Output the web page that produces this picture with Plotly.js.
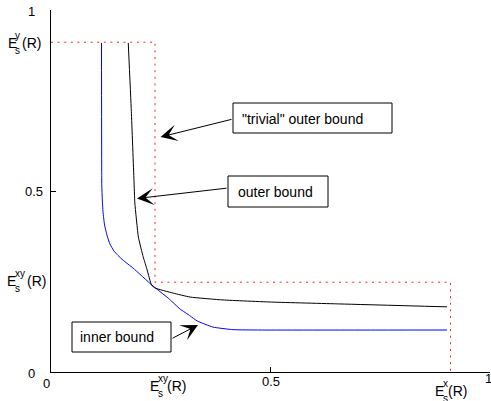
<!DOCTYPE html>
<html>
<head>
<meta charset="utf-8">
<script src="https://cdn.plot.ly/plotly-3.0.1.min.js"></script>
<style>
html,body{margin:0;padding:0;background:#fff;}
#chart{width:491px;height:401px;}
</style>
</head>
<body>
<div id="chart"></div>
<script>
// ---- data ----
var innerX = [0.115, 0.1155, 0.1157, 0.1169, 0.1185, 0.122, 0.128, 0.134, 0.1435, 0.1526, 0.164, 0.187, 0.230, 0.267, 0.294, 0.317, 0.333, 0.369, 0.415, 0.476, 0.902];
var innerY = [0.909, 0.558, 0.517, 0.475, 0.442, 0.406, 0.376, 0.354, 0.334, 0.322, 0.309, 0.287, 0.240, 0.204, 0.174, 0.155, 0.141, 0.124, 0.117, 0.116, 0.116];
var outerX = [0.176, 0.183, 0.189, 0.191, 0.199, 0.210, 0.219, 0.229, 0.237, 0.278, 0.317, 0.392, 0.506, 0.658, 0.902];
var outerY = [0.909, 0.720, 0.530, 0.467, 0.373, 0.318, 0.282, 0.240, 0.232, 0.218, 0.207, 0.199, 0.193, 0.188, 0.180];
var trivialX = [0, 0.237, 0.237, 0.910, 0.910];
var trivialY = [0.911, 0.911, 0.248, 0.248, 0];

var xTickVals = [0, 0.5, 1];
var xTickText = ['0', '0.5', '1'];
var yTickVals = [0, 0.5, 1];
var yTickText = ['0', '0.5', '1'];
// special labels: [main, sub, sup, suffix]
var labelEsxy = ['E', 's', 'xy', '(R)'];
var labelEsx = ['E', 's', 'x', '(R)'];
var labelEsy = ['E', 's', 'y', '(R)'];
var boxTexts = ['"trivial" outer bound', 'outer bound', 'inner bound'];

// ---- layout geometry (pixels) ----
var W = 491, H = 401, L = 51, T = 10, PW = 439, PH = 362;
function xp(px){ return (px - L) / PW; }
function yp(py){ return (T + PH - py) / PH; }
var FONT = 'Liberation Sans, Arial, Helvetica, sans-serif';

var annotations = [];
var shapes = [];

function txt(s, px, py, size, xanchor){
  annotations.push({xref:'paper', yref:'paper', x:xp(px), y:yp(py), text:s, showarrow:false,
    xanchor:xanchor || 'left', yanchor:'middle', font:{family:FONT, size:size, color:'#000'}, borderpad:0});
}
// stacked sub/superscript label; baseline given in px
function esLabel(lbl, left, base, supL, sufL){
  txt(lbl[0], left, base - 4.8, 14);
  txt(lbl[2], supL, base - 9 - 3.4, 10);
  txt(lbl[1], supL, base + 6 - 3.4, 10);
  txt(lbl[3], sufL, base - 4.8, 14);
}

// numeric tick labels
var yTickPos = [[36, 373], [44, 191.5], [36, 11]]; // right edge, center y
yTickVals.forEach(function(v, i){ txt(yTickText[i], yTickPos[i][0], yTickPos[i][1], 13, 'right'); });
var xTickPos = [[46, 383], [270.5, 381], [488, 378]];
xTickVals.forEach(function(v, i){ txt(xTickText[i], xTickPos[i][0], xTickPos[i][1], 13, 'center'); });

// E labels
esLabel(labelEsy, 6.5, 47.5, 14, 21);
esLabel(labelEsxy, 6.3, 286, 14, 26);
esLabel(labelEsxy, 149, 391, 156.5, 166);
esLabel(labelEsx, 434, 396, 441.5, 447);

// boxes [x0,y0,x1,y1,textLeft,textCenterY]
var boxes = [[233, 103, 392, 133, 241, 118.5], [228, 176, 328, 207, 236.5, 191.5], [72, 322, 171, 352, 79, 337]];
boxes.forEach(function(b, i){
  shapes.push({type:'rect', xref:'paper', yref:'paper', x0:xp(b[0]), x1:xp(b[2]), y0:yp(b[3]), y1:yp(b[1]),
    line:{color:'#000', width:1}, fillcolor:'#fff', layer:'above'});
  txt(boxTexts[i], b[4], b[5], 14);
});

// arrows [startX,startY,tipX,tipY]
var arrows = [[233, 119, 160.5, 137], [228, 188, 137, 198.5], [171, 339, 198, 325]];
arrows.forEach(function(a){
  annotations.push({xref:'paper', yref:'paper', x:xp(a[2]), y:yp(a[3]), ax:a[0]-a[2], ay:a[1]-a[3],
    text:'', showarrow:true, arrowhead:3, arrowsize:2.8, arrowwidth:1, arrowcolor:'#000', standoff:0, startstandoff:0});
});

var traces = [
  {x:innerX, y:innerY, mode:'lines', line:{color:'#0000ff', width:1, shape:'spline', smoothing:0.4}, hoverinfo:'skip'},
  {x:outerX, y:outerY, mode:'lines', line:{color:'#000000', width:1, shape:'spline', smoothing:0.4}, hoverinfo:'skip'},
  {x:trivialX, y:trivialY, mode:'lines', line:{color:'#ff2020', width:1, dash:'2px,4.6px'}, hoverinfo:'skip'}
];

var axisCommon = {range:[0,1], showgrid:false, zeroline:false, showline:true, linecolor:'#000', linewidth:1,
  ticks:'inside', ticklen:5, tickcolor:'#000', tickwidth:1, showticklabels:false, fixedrange:true};

var layout = {
  width:W, height:H, margin:{l:L, r:W-L-PW, t:T, b:H-T-PH, pad:0},
  paper_bgcolor:'#fff', plot_bgcolor:'#fff', showlegend:false,
  xaxis:Object.assign({}, axisCommon, {tickvals:xTickVals}),
  yaxis:Object.assign({}, axisCommon, {tickvals:yTickVals}),
  annotations:annotations, shapes:shapes,
  font:{family:FONT, size:13, color:'#000'}
};

Plotly.newPlot('chart', traces, layout, {staticPlot:true, displayModeBar:false});
</script>
</body>
</html>
